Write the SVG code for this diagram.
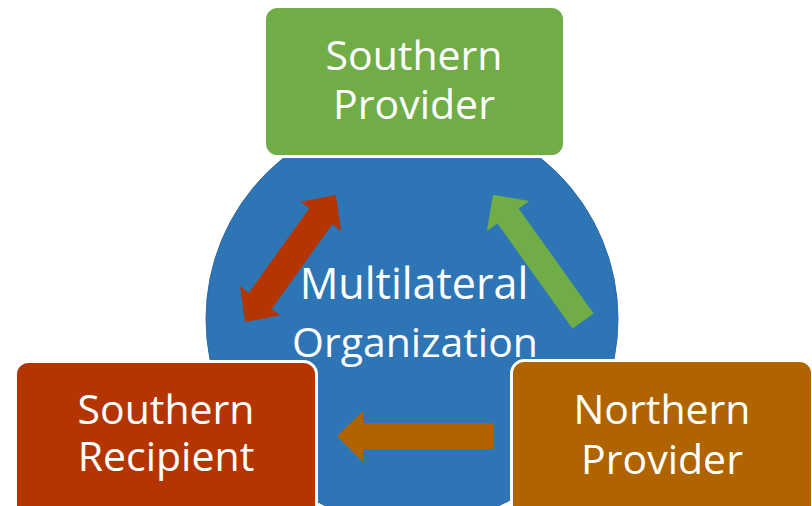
<svg xmlns="http://www.w3.org/2000/svg" width="812" height="506" viewBox="0 0 812 506">
<style>
.box{stroke:#fff;stroke-width:3}
.lbl{font-family:"Open Sans","Liberation Sans",sans-serif;font-size:41px;fill:#fff;text-anchor:middle}
</style>
<rect width="812" height="506" fill="#fff"/>
<g id="multilateral-organization">
<circle cx="412" cy="319" r="206" fill="#2E75B6" stroke="#2B6AA6" stroke-width="1"/>
<text class="lbl"><tspan x="414" y="299" font-size="43">Multilateral</tspan><tspan x="415" y="357" font-size="41">Organization</tspan></text>
</g>
<g id="connectors">
<polygon fill="#B43500" transform="translate(290.5,258.5) rotate(-54.4)" points="-78,0 -52,-25 -52,-14 52,-14 52,-25 78,0 52,25 52,14 -52,14 -52,25"/>
<polygon fill="#70AD47" transform="translate(583,321) rotate(-125.5)" points="0,-13 129,-13 129,-26 155,0 129,26 129,13 0,13"/>
<polygon fill="#AF6400" points="493,423 363,423 363,411 337,436 363,462 363,449 493,449"/>
</g>
<g id="southern-provider">
<rect class="box" x="264.5" y="6.5" width="300" height="150" rx="13" fill="#70AD47"/>
<text class="lbl"><tspan x="414" y="70">Southern</tspan><tspan x="414" y="119">Provider</tspan></text>
</g>
<g id="southern-recipient">
<rect class="box" x="15.5" y="361.5" width="301" height="170" rx="13" fill="#B43500"/>
<text class="lbl"><tspan x="166" y="424">Southern</tspan><tspan x="166" y="471">Recipient</tspan></text>
</g>
<g id="northern-provider">
<rect class="box" x="511.5" y="360.5" width="301" height="170" rx="13" fill="#AF6400"/>
<text class="lbl"><tspan x="662" y="424">Northern</tspan><tspan x="662" y="474">Provider</tspan></text>
</g>
</svg>
